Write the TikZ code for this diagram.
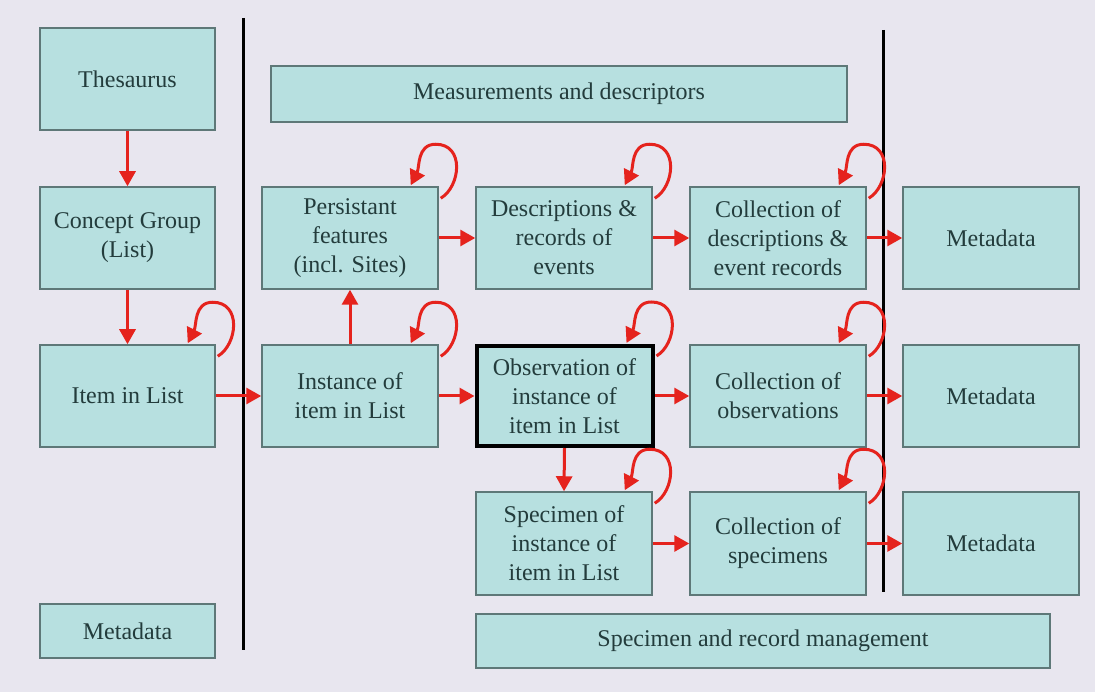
\documentclass[tikz,border=0pt]{standalone}
\usepackage{fontspec}
\setmainfont{Liberation Serif}
\usetikzlibrary{arrows.meta}
\definecolor{bg}{HTML}{E8E6EF}
\definecolor{boxfill}{HTML}{B7E0E0}
\definecolor{boxline}{HTML}{5E7878}
\definecolor{txt}{HTML}{233C3C}
\definecolor{arrred}{HTML}{E5231D}
\newcommand\selfloop[1]{\draw[arr] ([shift={(2,12)}]#1.north east) .. controls +(20,-12) and +(29,0) .. ([shift={(-3,-42)}]#1.north east) .. controls +(-19,0) and +(9,-18) .. ([shift={(-28,-1)}]#1.north east);}
\begin{document}
\begin{tikzpicture}[x=1pt,y=-1pt,
  box/.style={draw=boxline, line width=1.5pt, fill=boxfill, text=txt, align=center,
    font=\fontsize{24}{29}\selectfont, inner sep=0pt},
  arr/.style={draw=arrred, line width=3pt, -{Triangle[length=15pt,width=16pt]}},
  vline/.style={draw=black, line width=3pt}]
\fill[bg] (0,0) rectangle (1095,692);
\useasboundingbox (0,0) rectangle (1095,692);
% left column
\node[box, minimum width=175pt, minimum height=102pt] (thes) at (127.5,79) {Thesaurus};
\node[box, minimum width=175pt, minimum height=102pt] (concept) at (127.5,238) {Concept Group\\(List)};
\node[box, minimum width=175pt, minimum height=102pt] (item) at (127.5,396) {Item in List};
\node[box, minimum width=175pt, minimum height=54pt] (metaL) at (127.5,631) {Metadata};
% top banner
\node[box, minimum width=576pt, minimum height=56pt] (meas) at (559,94) {Measurements and descriptors};
% row 1
\node[box, minimum width=176pt, minimum height=102pt] (pers) at (350,238) {Persistant\\features\\(incl. Sites)};
\node[box, minimum width=176pt, minimum height=102pt] (desc) at (564,238) {Descriptions \&\\records of\\events};
\node[box, minimum width=176pt, minimum height=102pt] (colldesc) at (778,238) {Collection of\\descriptions \&\\event records};
\node[box, minimum width=176pt, minimum height=102pt] (meta1) at (991,238) {Metadata};
% row 2
\node[box, minimum width=176pt, minimum height=102pt] (inst) at (350,396) {Instance of\\item in List};
\node[box, draw=black, line width=4pt, minimum width=176pt, minimum height=100pt] (obs) at (564.5,396) {Observation of\\instance of\\item in List};
\node[box, minimum width=176pt, minimum height=102pt] (collobs) at (778,396) {Collection of\\observations};
\node[box, minimum width=176pt, minimum height=102pt] (meta2) at (991,396) {Metadata};
% row 3
\node[box, minimum width=176pt, minimum height=103pt] (spec) at (564,543.5) {Specimen of\\instance of\\item in List};
\node[box, minimum width=176pt, minimum height=103pt] (collspec) at (778,543.5) {Collection of\\specimens};
\node[box, minimum width=176pt, minimum height=103pt] (meta3) at (991,543.5) {Metadata};
% bottom banner
\node[box, minimum width=574pt, minimum height=54pt] (mgmt) at (763,641) {Specimen and record management};
% vertical separators
\draw[vline] (243,18) -- (243,650);
\draw[vline] (883,30) -- (883,592);
% arrows
\draw[arr] (thes) -- (concept);
\draw[arr] (concept) -- (item);
\draw[arr] (item) -- (inst);
\draw[arr] (inst) -- (pers);
\draw[arr] (pers) -- (desc);
\draw[arr] (desc) -- (colldesc);
\draw[arr] (colldesc) -- (meta1);
\draw[arr] (inst) -- (obs);
\draw[arr] (obs) -- (collobs);
\draw[arr] (collobs) -- (meta2);
\draw[arr] (obs.south) -- (spec.north);
\draw[arr] (spec) -- (collspec);
\draw[arr] (collspec) -- (meta3);
% self loops
\selfloop{item}
\selfloop{pers}
\selfloop{inst}
\selfloop{desc}
\selfloop{colldesc}
\selfloop{obs}
\selfloop{collobs}
\selfloop{spec}
\selfloop{collspec}
\end{tikzpicture}
\end{document}
